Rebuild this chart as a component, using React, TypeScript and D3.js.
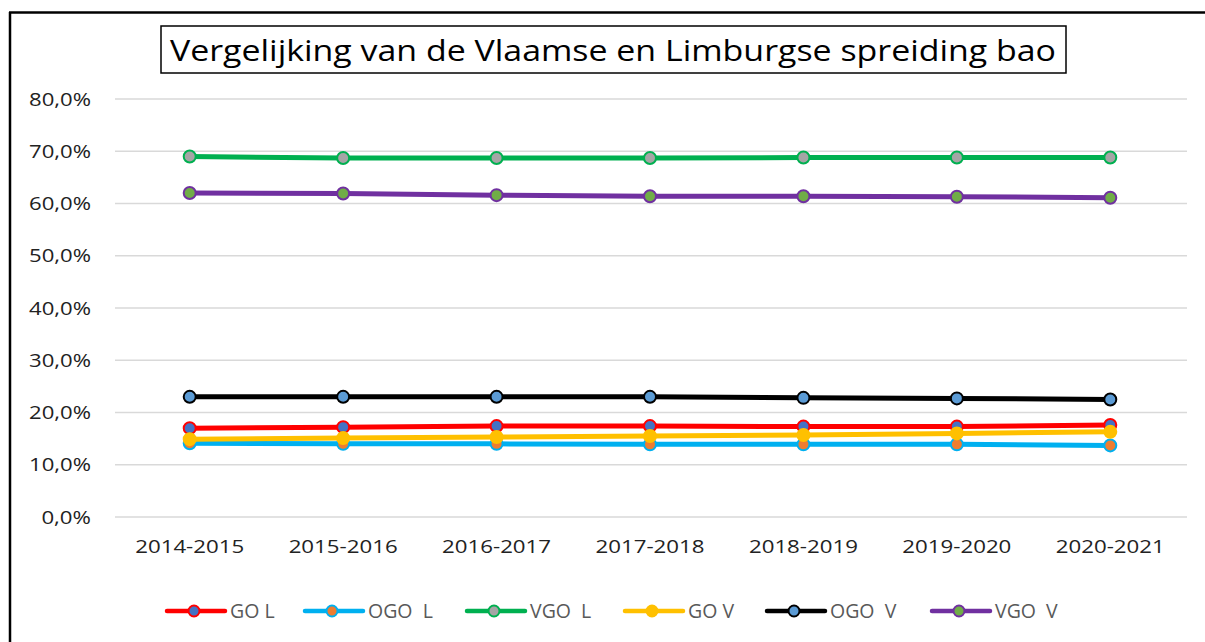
import React from 'react';
import * as d3 from 'd3';

const years = ['2014-2015', '2015-2016', '2016-2017', '2017-2018', '2018-2019', '2019-2020', '2020-2021'];
const yTicks = [0, 10, 20, 30, 40, 50, 60, 70, 80];

const goL = [17.0, 17.2, 17.4, 17.4, 17.3, 17.3, 17.6];
const ogoL = [14.1, 14.0, 14.0, 13.9, 13.9, 13.9, 13.7];
const vgoL = [69.0, 68.7, 68.7, 68.7, 68.8, 68.8, 68.8];
const goV = [14.9, 15.1, 15.3, 15.5, 15.7, 16.0, 16.3];
const ogoV = [23.0, 23.0, 23.0, 23.0, 22.8, 22.7, 22.5];
const vgoV = [62.0, 61.9, 61.6, 61.4, 61.4, 61.3, 61.1];

const seriesNames = ['GO L', 'OGO  L', 'VGO  L', 'GO V', 'OGO  V', 'VGO  V'];
const seriesValues = [goL, ogoL, vgoL, goV, ogoV, vgoV];
const lineColors = ['#ff0000', '#00b0f0', '#00b050', '#ffc000', '#000000', '#7030a0'];
const markerFills = ['#4472c4', '#ed7d31', '#a5a5a5', '#ffc000', '#5b9bd5', '#70ad47'];
// draw order so that overlapping lines stack like the original
const drawOrder = [2, 5, 4, 0, 1, 3];

const W = 1205;
const H = 642;
const plotLeft = 113;
const plotRight = 1187;
const font = "'Open Sans', 'Noto Sans', sans-serif";

export default function App() {
  const x = d3.scaleBand().domain(years).range([plotLeft, plotRight]);
  const y = d3.scaleLinear().domain([0, 80]).range([517, 99]);
  const cx = (i: number) => (x(years[i]) as number) + x.bandwidth() / 2;
  const line = d3.line<number>()
    .x((_, i) => cx(i))
    .y(d => y(d));

  const legendX = [167, 305, 467, 625, 767, 932];
  const legendY = 611;

  return (
    <svg width={W} height={H} style={{ position: 'absolute', left: 0, top: 0, background: '#fff' }}>
      <rect x={0} y={0} width={W} height={H} fill="#fff" />
      {/* frame: only top and left edge visible */}
      <line x1={9} x2={W} y1={12.5} y2={12.5} stroke="#000" strokeWidth={2.5} />
      <line x1={10} x2={10} y1={12} y2={H} stroke="#000" strokeWidth={2.5} />

      {/* title */}
      <rect x={161} y={26} width={905} height={47} fill="#fff" stroke="#000" strokeWidth={1.5} />
      <text x={613} y={61} textAnchor="middle" fontFamily={font} fontSize={30} fill="#000"
        textLength={886} lengthAdjust="spacingAndGlyphs">
        Vergelijking van de Vlaamse en Limburgse spreiding bao
      </text>

      {/* grid + y labels */}
      {yTicks.map(t => {
        const label = `${t.toFixed(1).replace('.', ',')}%`;
        return (
          <g key={t}>
            <line x1={plotLeft + 2} x2={plotRight} y1={y(t)} y2={y(t)} stroke="#d9d9d9" strokeWidth={1.5} />
            <text x={91} y={y(t) + 6.5} textAnchor="end" fontFamily={font} fontSize={18.5} fill="#222"
              textLength={label.length * 12.4} lengthAdjust="spacingAndGlyphs">
              {label}
            </text>
          </g>
        );
      })}

      {/* x labels */}
      {years.map((yr, i) => (
        <text key={yr} x={cx(i)} y={553} textAnchor="middle"
          fontFamily={font} fontSize={19} fill="#222" textLength={109} lengthAdjust="spacingAndGlyphs">
          {yr}
        </text>
      ))}

      {/* series */}
      {drawOrder.map(si => (
        <g key={seriesNames[si]}>
          <path d={line(seriesValues[si]) || ''} fill="none" stroke={lineColors[si]} strokeWidth={5} strokeLinejoin="round" />
          {seriesValues[si].map((v, i) => (
            <circle key={i} cx={cx(i)} cy={y(v)} r={6}
              fill={markerFills[si]} stroke={lineColors[si]} strokeWidth={2} />
          ))}
        </g>
      ))}

      {/* legend */}
      {seriesNames.map((name, si) => (
        <g key={name} transform={`translate(${legendX[si]},${legendY})`}>
          <line x1={0} x2={58} y1={0} y2={0} stroke={lineColors[si]} strokeWidth={4.5} strokeLinecap="round" />
          <circle cx={27} cy={0} r={5.5} fill={markerFills[si]} stroke={lineColors[si]} strokeWidth={2} />
          <text x={63} y={7} fontFamily={font} fontSize={19.5} fill="#595959" style={{ whiteSpace: 'pre' }}>
            {name}
          </text>
        </g>
      ))}
    </svg>
  );
}
